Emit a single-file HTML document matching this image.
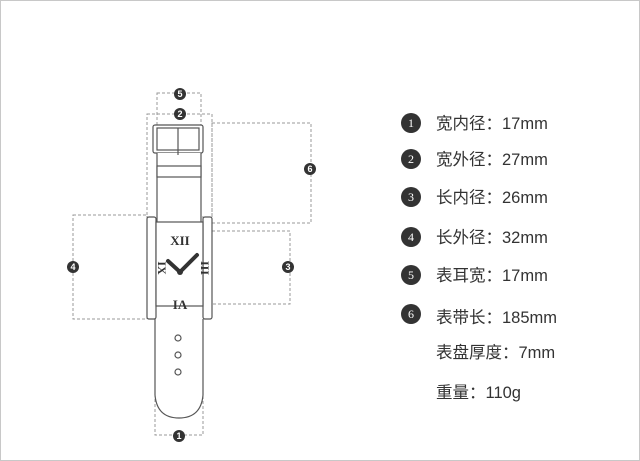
<!DOCTYPE html>
<html><head><meta charset="utf-8"><style>
body{margin:0;background:#fff;}
.w{position:relative;width:638px;height:459px;border:1px solid #c8c8c8;overflow:hidden;font-family:"Liberation Sans","Noto Sans CJK SC",sans-serif;}
.t{position:absolute;left:435px;font-size:16.5px;color:#333;line-height:20px;}
.c{position:absolute;left:400px;width:20px;height:20px;border-radius:50%;background:#333;color:#fff;font-size:12px;line-height:20px;text-align:center;font-family:"Liberation Serif",serif;}
</style></head><body><div class="w">
<svg width="640" height="461" style="position:absolute;left:-1px;top:-1px">
<g fill="none" stroke="#999" stroke-dasharray="3,2" stroke-width="1">
<rect x="157" y="93" width="44" height="32"/>
<rect x="147" y="114" width="65" height="103"/>
<rect x="212" y="123" width="99" height="100"/>
<rect x="73" y="215" width="74" height="104"/>
<rect x="212" y="231" width="78" height="73"/>
<path d="M155 319V435H203V319"/>
</g>
<g fill="#fff" stroke="#555" stroke-width="1.2">
<rect x="153" y="125" width="50" height="28" rx="2"/>
<rect x="157" y="128" width="42" height="22"/>
<path d="M157 153V223H201V153"/>
<rect x="157" y="166" width="44" height="11"/>
<line x1="178" y1="128" x2="178" y2="155"/>
<path d="M155 319V395Q157 418 179 418Q201 418 203 395V319"/>
<rect x="147" y="217" width="9" height="102" rx="2"/>
<rect x="203" y="217" width="9" height="102" rx="2"/>
<rect x="156" y="222" width="47" height="84"/>
<circle cx="178" cy="338" r="3"/><circle cx="178" cy="355" r="3"/><circle cx="178" cy="372" r="3"/>
</g>
<g fill="#333" font-family="Liberation Serif,serif" font-weight="bold" font-size="13">
<text x="180" y="245" text-anchor="middle">XII</text>
<text x="180" y="309" text-anchor="middle">IA</text>
<text transform="translate(158,268) rotate(90)" text-anchor="middle" font-size="12">IX</text>
<text transform="translate(201,268) rotate(90)" text-anchor="middle" font-size="12">III</text>
</g>
<path d="M168 261L180 272L197 255" stroke="#333" stroke-width="4" fill="none" stroke-linecap="round"/>
<circle cx="180" cy="272" r="3" fill="#333"/>
<g fill="#333">
<circle cx="180" cy="94" r="6"/><circle cx="180" cy="114" r="6"/><circle cx="310" cy="169" r="6"/>
<circle cx="73" cy="267" r="6"/><circle cx="288" cy="267" r="6"/><circle cx="179" cy="436" r="6"/>
</g>
<g fill="#fff" font-size="9" font-family="Liberation Sans,sans-serif" text-anchor="middle" font-weight="bold">
<text x="180" y="97">5</text><text x="180" y="117">2</text><text x="310" y="172">6</text>
<text x="73" y="270">4</text><text x="288" y="270">3</text><text x="179" y="439">1</text>
</g>
</svg>
<div class="c" style="top:112px">1</div><div class="t" style="top:113px">宽内径：17mm</div>
<div class="c" style="top:148px">2</div><div class="t" style="top:149px">宽外径：27mm</div>
<div class="c" style="top:186px">3</div><div class="t" style="top:187px">长内径：26mm</div>
<div class="c" style="top:226px">4</div><div class="t" style="top:227px">长外径：32mm</div>
<div class="c" style="top:264px">5</div><div class="t" style="top:265px">表耳宽：17mm</div>
<div class="c" style="top:303px">6</div><div class="t" style="top:307px">表带长：185mm</div>
<div class="t" style="top:342px">表盘厚度：7mm</div>
<div class="t" style="top:382px">重量：110g</div>
</div></body></html>
